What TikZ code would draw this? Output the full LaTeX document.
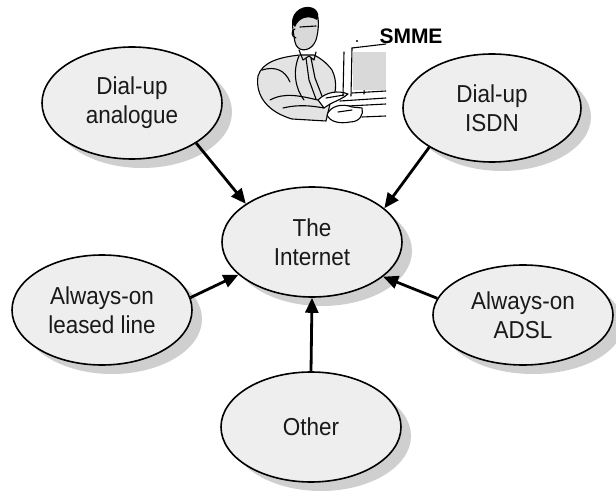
\documentclass[tikz,border=0pt]{standalone}
\usepackage{fontspec}
\usetikzlibrary{shapes.geometric,arrows.meta,shadows}
\newfontfamily\labelfont{Liberation Sans}[FakeStretch=0.917]
\newfontfamily\headfont{Liberation Sans}
\begin{document}
\begin{tikzpicture}[x=1pt,y=-1pt,
  bubble/.style={ellipse, draw=black, line width=1.6pt, fill=gray!13,
    inner sep=0pt, align=center, text=black!90,
    font=\labelfont\fontsize{24.5}{29}\selectfont,
    drop shadow={shadow xshift=10pt, shadow yshift=-9pt, fill=gray!38, opacity=1}},
  link/.style={line width=2.8pt, -{Triangle[length=15pt,width=13pt]}},
  sketch/.style={line width=1.1pt, line cap=round, line join=round},
  speck/.style={fill=gray!22}]
\useasboundingbox (0,0) rectangle (616,492);

% ---- the small business owner at his computer ----
\begin{scope}
  \clip (250,0) rectangle (386,130);
  % torso
  \draw[sketch, speck] (300,55) .. controls (280,57) and (262,62) .. (258,76)
     .. controls (255,96) and (268,112) .. (292,119) -- (326,121)
     -- (330,104) .. controls (336,96) and (338,82) .. (332,70)
     .. controls (326,62) and (320,58) .. (314,55) -- cycle;
  % head
  \draw[sketch, fill=gray!30] (293,30) .. controls (290,12) and (305,5) .. (314,10)
     .. controls (320,14) and (319,30) .. (316,40)
     .. controls (312,51) and (300,53) .. (296,45)
     .. controls (294,40) and (294,35) .. (293,30) -- cycle;
  % hair
  \fill (292,24) .. controls (291,10) and (306,3) .. (315,9)
     .. controls (319,12) and (319,18) .. (317,20)
     .. controls (309,15) and (299,17) .. (295,27) -- cycle;
  % ear and glasses
  \draw[sketch] (295,29) .. controls (291,30) and (291,37) .. (296,38);
  \draw[sketch] (300,27) -- (316,26);
  % collar and tie
  \draw[sketch] (299,50) -- (303,60) -- (309,56) -- (314,60) -- (316,52);
  \draw[sketch] (306,58) -- (309,80) -- (316,99);
  \draw[sketch] (311,58) -- (315,78) -- (322,96);
  % lapel and side
  \draw[sketch] (299,56) .. controls (292,72) and (296,90) .. (304,100);
  \draw[sketch] (262,70) .. controls (275,66) and (285,70) .. (290,82);
  % arm reaching to the keyboard
  \draw[sketch] (270,100) .. controls (285,92) and (300,96) .. (318,100);
  \draw[sketch] (283,108) .. controls (300,104) and (312,106) .. (324,108);
  % hands
  \draw[sketch, fill=white] (318,100) .. controls (326,92) and (338,90) .. (348,94)
     .. controls (344,98) and (336,101) .. (330,104) -- (324,108) -- cycle;
  \draw[sketch] (326,98) -- (344,95);
  % monitor
  \draw[sketch] (343,96) -- (344,52);
  \draw[sketch] (351,96) -- (352,48);
  \draw[sketch] (352,48) -- (386,44);
  \draw[sketch] (364,94) -- (365,60);
  \fill[gray!30] (353,52) rectangle (386,90);
  \draw[sketch] (352,93) -- (386,91);
  % keyboard
  \draw[sketch] (340,101) -- (386,98);
  \draw[sketch] (348,106) -- (386,104);
  % hand on the mouse
  \draw[sketch, fill=white] (327,115) .. controls (330,106) and (342,103) .. (352,107)
     -- (362,108) .. controls (364,114) and (360,122) .. (350,122)
     .. controls (340,124) and (330,122) .. (327,115) -- cycle;
  \draw[sketch] (338,112) -- (352,110);
  \draw[sketch] (362,117) -- (386,116);
  % tiny mark above the monitor
  \fill (357,41) circle (1.2pt);
\end{scope}
\node[font=\headfont\bfseries\fontsize{21}{24}\selectfont] (smme) at (411,36) {SMME};

% ---- connection types ----
\node[bubble, minimum width=180pt, minimum height=112pt] (an)   at (132,103) {Dial-up\\analogue};
\node[bubble, minimum width=178pt, minimum height=108pt] (isdn) at (492,108) {Dial-up\\ISDN};
\node[bubble, minimum width=180pt, minimum height=110pt] (net)  at (312,242) {The\\Internet};
\node[bubble, minimum width=180pt, minimum height=110pt] (ll)   at (102,310) {Always-on\\leased line};
\node[bubble, minimum width=180pt, minimum height=100pt] (adsl) at (523,315) {Always-on\\ADSL};
\node[bubble, minimum width=180pt, minimum height=110pt] (oth)  at (311,427) {Other};

% ---- arrows into the Internet ----
\draw[link] (an.-32)   -- (net.150);
\draw[link] (isdn.212) -- (net.25);
\draw[link] (ll.8)     -- (net.204);
\draw[link] (adsl.169) -- (net.-26);
\draw[link] (oth.90)   -- (net.-90);
\end{tikzpicture}
\end{document}
